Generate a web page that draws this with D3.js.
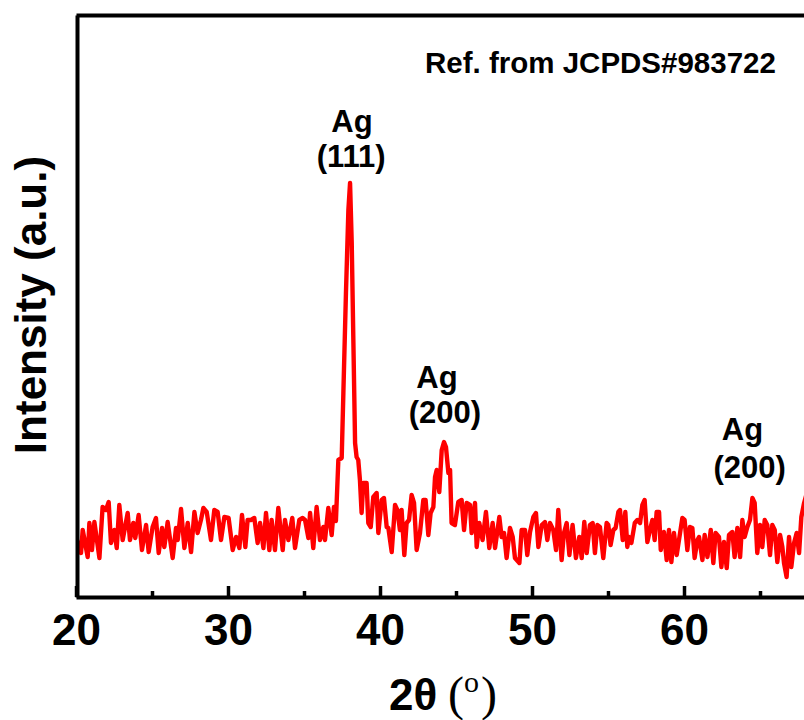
<!DOCTYPE html>
<html>
<head>
<meta charset="utf-8">
<script src="https://cdn.jsdelivr.net/npm/d3@7"></script>
<style>
  html, body { margin: 0; padding: 0; background: #fff; }
  svg { display: block; }
</style>
</head>
<body>
<svg id="chart" width="804" height="720"></svg>
<script>
// ---------- data ----------
const twoTheta = [
 20.00,20.33,20.44,20.77,20.88,21.05,21.21,21.54,21.75,21.97,22.15,22.30,22.52,22.68,22.85,23.07,23.40,23.55,23.77,23.90,
 24.12,24.34,24.61,24.78,25.04,25.26,25.44,25.66,25.81,26.03,26.36,26.58,26.69,26.91,27.13,27.35,27.57,27.79,28.00,28.22,
 28.38,28.60,28.88,29.10,29.32,29.54,29.76,30.04,30.31,30.53,30.75,30.92,31.14,31.29,31.51,31.73,31.95,
 32.11,32.33,32.50,32.72,32.87,33.09,33.31,33.60,33.75,33.97,34.23,34.41,34.69,34.91,35.07,35.29,35.40,35.61,35.83,36.05,
 36.27,36.38,36.60,36.82,36.97,37.10,
 37.26,37.48,37.59,37.76,37.92,38.03,38.14,38.25,38.36,38.46,38.57,38.68,38.79,38.90,39.12,39.23,39.39,39.56,39.78,39.89,
 40.11,40.26,40.44,40.55,40.77,40.99,41.14,41.31,41.42,41.60,41.75,41.91,42.08,42.24,42.41,42.63,42.85,43.00,43.18,43.33,
 43.51,43.62,43.73,43.90,44.06,44.21,44.34,44.50,44.61,
 44.71,44.93,45.15,45.37,45.53,45.70,45.92,46.03,46.25,46.36,46.53,46.75,46.97,47.19,47.41,47.57,47.85,48.00,48.16,48.33,
 48.55,48.73,48.88,49.17,49.32,49.54,49.69,49.87,50.09,50.26,50.42,50.64,50.85,51.01,51.18,51.40,51.58,51.73,51.95,52.10,
 52.28,52.46,52.67,52.89,53.11,53.27,53.44,53.60,53.81,53.99,54.14,54.30,54.47,54.69,54.91,55.02,55.17,55.35,55.50,55.68,
 55.79,55.97,56.14,56.27,
 56.38,56.54,56.76,56.93,57.11,57.26,57.41,57.59,57.76,57.92,58.07,58.20,58.36,58.47,58.68,58.86,59.01,59.17,59.34,59.52,
 59.74,59.89,60.04,60.22,60.39,60.55,60.70,60.88,60.99,61.21,61.36,61.54,61.76,61.93,62.08,62.30,62.46,62.63,62.81,62.96,
 63.18,63.33,63.51,63.69,63.84,63.99,64.17,64.34,64.50,64.65,64.82,65.00,65.15,65.31,65.48,65.66,65.81,65.97,66.14,66.32,
 66.47,66.58,66.75,66.91,67.06,67.24,67.41,67.57,67.72,67.90,68.10
];
const intensity = [
 60,44,67,40,74,47,75,39,90,87,95,54,67,49,92,57,84,57,74,59,
 82,47,72,45,70,79,44,69,50,75,39,69,57,88,49,74,45,85,64,77,
 89,85,57,87,85,57,80,79,47,60,49,82,50,77,77,79,54,
 74,49,84,47,77,47,89,47,77,57,79,49,77,79,77,59,84,49,90,57,
 70,57,89,62,90,76,
 137,139,204,304,387,414,354,254,154,140,137,117,84,114,114,74,70,100,104,64,
 97,99,70,69,45,92,87,67,87,42,74,77,102,94,47,64,97,97,62,84,
 90,120,127,105,147,155,150,124,127,
 74,72,95,97,67,94,92,64,94,50,74,57,85,49,74,49,80,60,64,39,
 69,60,39,34,67,67,42,65,80,84,50,72,75,57,74,67,47,87,37,64,
 74,42,72,39,60,39,75,44,72,74,44,72,70,39,74,72,52,67,69,85,
 87,57,85,50,
 60,54,74,77,74,92,97,55,67,77,57,85,85,47,65,37,67,35,64,42,
 64,79,77,47,70,69,39,57,60,37,62,40,67,34,64,60,30,55,29,62,
 65,40,69,40,77,60,70,77,99,94,44,72,50,77,72,42,72,67,35,62,
 50,34,20,60,30,54,64,44,80,94,105
];
const majorTicks = [20, 30, 40, 50, 60];
const minorTicks = [25, 35, 45, 55, 65];
// annotations: label, 2θ anchor, intensity anchor
const annoLabels  = ["Ag", "(111)", "Ag", "(200)", "Ag", "(200)"];
const annoTheta   = [38.16, 38.10, 43.75, 44.27, 63.85, 64.32];
const annoLevel   = [465, 430, 209, 174, 157, 119];
const refNote = "Ref. from JCPDS#983722";

// ---------- layout ----------
const svg = d3.select("#chart");
const padL = 76, padT = 15, padB = 597;
const x = d3.scaleLinear().domain([20, 70]).range([padL, padL + 760]);
const y = d3.scaleLinear().domain([0, 582]).range([padB, padT]);
const sans = "'Liberation Sans', Arial, Helvetica, sans-serif";
const serif = "'Liberation Serif', 'Times New Roman', serif";

svg.append("rect").attr("width", 804).attr("height", 720).attr("fill", "#fff");

svg.append("defs").append("clipPath").attr("id", "plotclip")
  .append("rect").attr("x", padL).attr("y", padT).attr("width", 800).attr("height", padB - padT);

const pts = twoTheta.map((t, i) => [t, intensity[i]]);
const line = d3.line().x(d => x(d[0])).y(d => y(d[1])).curve(d3.curveLinear);

svg.append("path")
  .datum(pts)
  .attr("clip-path", "url(#plotclip)")
  .attr("fill", "none")
  .attr("stroke", "#ff0000")
  .attr("stroke-width", 4.4)
  .attr("stroke-linejoin", "round")
  .attr("stroke-linecap", "round")
  .attr("d", line);

// bottom axis: minor ticks
const gMinor = svg.append("g").attr("transform", `translate(0,${padB})`)
  .call(d3.axisBottom(x).tickValues(minorTicks).tickSizeInner(-6).tickSizeOuter(0).tickFormat(""));
gMinor.select(".domain").remove();
gMinor.selectAll(".tick line").attr("stroke", "#000").attr("stroke-width", 3.5);

// bottom axis: major ticks + labels
const gMajor = svg.append("g").attr("transform", `translate(0,${padB})`)
  .call(d3.axisBottom(x).tickValues(majorTicks).tickSizeInner(-11).tickSizeOuter(0).tickPadding(17).tickFormat(d3.format("d")));
gMajor.select(".domain").attr("stroke", "#000").attr("stroke-width", 4);
gMajor.selectAll(".tick line").attr("stroke", "#000").attr("stroke-width", 3.5);
gMajor.selectAll(".tick text")
  .attr("font-family", sans).attr("font-weight", "bold").attr("font-size", 44).attr("fill", "#000");

// left axis (no ticks)
const gLeft = svg.append("g").attr("transform", `translate(${padL + 1},0)`)
  .call(d3.axisLeft(y).tickValues([]).tickSizeOuter(0));
gLeft.select(".domain").attr("stroke", "#000").attr("stroke-width", 4);

// top border (no ticks)
const gTop = svg.append("g").attr("transform", `translate(0,${padT})`)
  .call(d3.axisTop(x).tickValues([]).tickSizeOuter(0));
gTop.select(".domain").attr("stroke", "#000").attr("stroke-width", 4);

// x-axis title
const xt = svg.append("text").attr("y", 710).attr("fill", "#000");
xt.append("tspan").attr("x", 389).attr("font-family", sans).attr("font-weight", "bold").attr("font-size", 44).text("2θ");
xt.append("tspan").attr("x", 448).attr("font-family", serif).attr("font-size", 48).text("(");
xt.append("tspan").attr("x", 464).attr("y", 692).attr("font-family", serif).attr("font-size", 30).text("o");
xt.append("tspan").attr("x", 481).attr("y", 710).attr("font-family", serif).attr("font-size", 48).text(")");

// y-axis title
svg.append("text")
  .attr("transform", "translate(46,305) rotate(-90)")
  .attr("text-anchor", "middle")
  .attr("font-family", sans).attr("font-weight", "bold").attr("font-size", 44).attr("fill", "#000")
  .text("Intensity (a.u.)");

// reference note
svg.append("text")
  .attr("x", 425).attr("y", 73)
  .attr("font-family", sans).attr("font-weight", "bold").attr("font-size", 29.5).attr("fill", "#000")
  .text(refNote);

// peak annotations
svg.selectAll("text.anno")
  .data(annoLabels)
  .enter().append("text")
  .attr("class", "anno")
  .attr("x", (d, i) => x(annoTheta[i]))
  .attr("y", (d, i) => y(annoLevel[i]))
  .attr("text-anchor", "middle")
  .attr("font-family", sans).attr("font-weight", "bold").attr("font-size", 31).attr("fill", "#000")
  .text(d => d);
</script>
</body>
</html>
